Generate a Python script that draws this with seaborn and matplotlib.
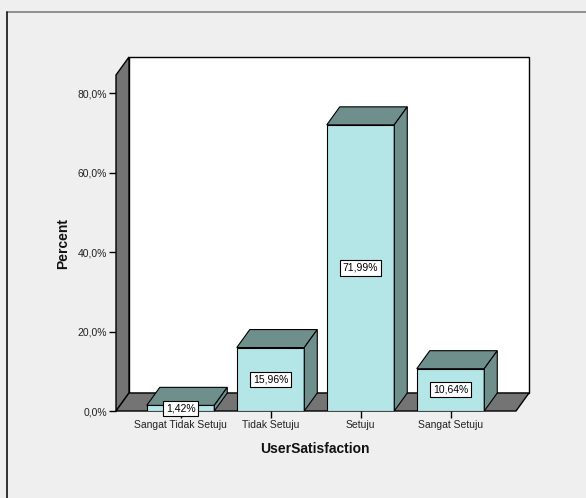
import matplotlib
matplotlib.use("Agg")
import matplotlib.pyplot as plt
from matplotlib.patches import Polygon
from matplotlib.lines import Line2D
import seaborn as sns
import pandas as pd

# Survey results
categories = ["Sangat Tidak Setuju", "Tidak Setuju", "Setuju", "Sangat Setuju"]
percents = [1.42, 15.96, 71.99, 10.64]
ytick_values = [0, 20, 40, 60, 80]
ytick_labels = ["0,0%", "20,0%", "40,0%", "60,0%", "80,0%"]

df = pd.DataFrame({"UserSatisfaction": categories, "Percent": percents})

sns.set_theme(style="white")
plt.rcParams["font.family"] = ["Liberation Sans", "DejaVu Sans"]

W, H, DPI = 586, 498, 100
fig = plt.figure(figsize=(W / DPI, H / DPI), dpi=DPI, facecolor="#efefef")

# axes box spans the front plane plus the depth of the back wall (pixels)
ax_l, ax_r, ax_t, ax_b = 116, 529, 57, 411
ax = fig.add_axes([ax_l / W, 1 - ax_b / H, (ax_r - ax_l) / W, (ax_b - ax_t) / H])
ax.set_facecolor("none")

FRONT = "#b4e6e8"
SHADE = "#6f8f8c"
WALL = "#747474"

sns.barplot(data=df, x="UserSatisfaction", y="Percent", order=categories,
            color=FRONT, saturation=1, width=0.75, edgecolor="black",
            linewidth=0.8, ax=ax, zorder=3)

px_per_unit = 3.975
x_left, x_right = -0.717, 3.872
y_top = (ax_b - ax_t) / px_per_unit
ax.set_xlim(x_left, x_right)
ax.set_ylim(0, y_top)

# depth of the 3-D effect, converted from pixels to data units
px_per_cat = (ax_r - ax_l) / (x_right - x_left)
dx = 13 / px_per_cat
dy = 18 / px_per_unit

# walls: back, left side, floor
x_front_r = x_right - dx
ax.add_patch(Polygon([(x_left + dx, dy), (x_right, dy), (x_right, y_top), (x_left + dx, y_top)],
                     closed=True, facecolor="white", edgecolor="black", lw=1.0, zorder=0.5, clip_on=False))
ax.add_patch(Polygon([(x_left, 0), (x_left, y_top - dy), (x_left + dx, y_top), (x_left + dx, dy)],
                     closed=True, facecolor=WALL, edgecolor="black", lw=1.0, zorder=0.6, clip_on=False))
ax.add_patch(Polygon([(x_left, 0), (x_front_r, 0), (x_right, dy), (x_left + dx, dy)],
                     closed=True, facecolor=WALL, edgecolor="black", lw=1.0, zorder=0.6, clip_on=False))

# top and side faces of each bar, plus the value box
for p, v in zip(ax.patches, percents):
    x0, w, h = p.get_x(), p.get_width(), p.get_height()
    ax.add_patch(Polygon([(x0, h), (x0 + w, h), (x0 + w + dx, h + dy), (x0 + dx, h + dy)],
                         closed=True, facecolor=SHADE, edgecolor="black", lw=0.8, zorder=3.5, clip_on=False))
    ax.add_patch(Polygon([(x0 + w, 0), (x0 + w, h), (x0 + w + dx, h + dy), (x0 + w + dx, dy)],
                         closed=True, facecolor=SHADE, edgecolor="black", lw=0.8, zorder=3.5, clip_on=False))
    ax.text(x0 + w / 2, h / 2, f"{v:.2f}".replace(".", ",") + "%",
            ha="center", va="center", fontsize=7.5, color="black", zorder=6,
            bbox=dict(boxstyle="square,pad=0.25", facecolor="white", edgecolor="black", lw=0.8))

for s in ax.spines.values():
    s.set_visible(False)

ax.set_yticks(ytick_values)
ax.set_yticklabels(ytick_labels)
ax.tick_params(axis="both", which="both", left=True, bottom=True, length=5, width=1.0,
               color="black", labelsize=7.5, labelcolor="#222222", pad=1.5, direction="out")

ax.set_xlabel("UserSatisfaction", fontsize=10, fontweight="bold", color="#111111")
ax.set_ylabel("Percent", fontsize=10, fontweight="bold", color="#111111")
ax.xaxis.set_label_coords((315 - ax_l) / (ax_r - ax_l), (ax_b - 449) / (ax_b - ax_t))
ax.yaxis.set_label_coords((63 - ax_l) / (ax_r - ax_l), (ax_b - 243) / (ax_b - ax_t))
ax.xaxis.label.set_va("center")
ax.yaxis.label.set_va("center")

# outer frame edges
fig.add_artist(Line2D([7 / W, 1], [1 - 12 / H, 1 - 12 / H], color="#808080", lw=1.2))
fig.add_artist(Line2D([7 / W, 7 / W], [0, 1 - 12 / H], color="#111111", lw=1.2))

fig.savefig("out.png", dpi=DPI, facecolor=fig.get_facecolor())
